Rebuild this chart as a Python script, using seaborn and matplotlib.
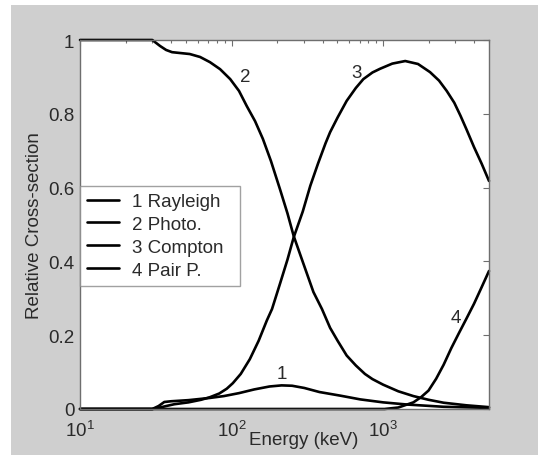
import numpy as np
import pandas as pd
import matplotlib
matplotlib.use("Agg")
import matplotlib.pyplot as plt
import matplotlib.ticker as mticker
from matplotlib.patches import Rectangle
import seaborn as sns

# ---- data (energy in keV, relative cross-section) ----
rayleigh_E = [10, 30, 33, 36, 40, 52, 72, 89, 112, 141, 178, 214, 251, 302, 380, 525, 708, 1000, 1450, 2510, 5000]
rayleigh_v = [0, 0, 0.008, 0.019, 0.021, 0.024, 0.030, 0.035, 0.043, 0.053, 0.061, 0.064, 0.063, 0.057, 0.046, 0.036, 0.026, 0.018, 0.012, 0.006, 0.003]

photo_E = [10, 20, 30, 33.7, 37, 40.5, 53, 62, 72, 84, 98, 112, 126, 143, 161, 182, 209, 234, 257, 295, 347, 395, 447, 501, 575, 661, 759, 851, 1000, 1260, 1585, 1995, 2510, 3550, 5000]
photo_v = [1.0, 1.0, 1.0, 0.984, 0.973, 0.967, 0.962, 0.954, 0.940, 0.921, 0.894, 0.862, 0.821, 0.780, 0.732, 0.672, 0.595, 0.530, 0.469, 0.399, 0.317, 0.271, 0.220, 0.185, 0.145, 0.118, 0.095, 0.081, 0.066, 0.048, 0.035, 0.025, 0.017, 0.010, 0.005]

compton_E = [10, 30, 33, 37, 42, 52, 63, 72, 83, 93, 102, 115, 132, 151, 171, 185, 209, 234, 257, 295, 331, 372, 417, 447, 501, 575, 661, 741, 851, 955, 1150, 1400, 1700, 2040, 2340, 2630, 2950, 3240, 3550, 3980, 4470, 5000]
compton_v = [0, 0, 0.003, 0.008, 0.013, 0.018, 0.025, 0.032, 0.042, 0.055, 0.070, 0.095, 0.135, 0.185, 0.240, 0.271, 0.340, 0.405, 0.465, 0.535, 0.605, 0.665, 0.720, 0.750, 0.790, 0.835, 0.870, 0.894, 0.912, 0.922, 0.936, 0.943, 0.935, 0.913, 0.890, 0.862, 0.830, 0.795, 0.758, 0.710, 0.665, 0.618]

pair_E = [10, 1000, 1022, 1260, 1585, 1780, 1995, 2240, 2510, 2820, 3160, 3550, 3980, 4470, 5000]
pair_v = [0, 0, 0, 0.004, 0.018, 0.032, 0.05, 0.082, 0.12, 0.165, 0.205, 0.245, 0.285, 0.33, 0.374]

series_names = ["1 Rayleigh", "2 Photo.", "3 Compton", "4 Pair P."]
curve_tags = ["1", "2", "3", "4"]
tag_E = [215, 123, 673, 3035]
tag_v = [0.095, 0.90, 0.913, 0.249]

y_ticks = [0, 0.2, 0.4, 0.6, 0.8, 1]
y_ticklabels = ["0", "0.2", "0.4", "0.6", "0.8", "1"]
x_ticks = [10, 100, 1000]

frames = []
for name, E, v in zip(series_names, [rayleigh_E, photo_E, compton_E, pair_E],
                      [rayleigh_v, photo_v, compton_v, pair_v]):
    frames.append(pd.DataFrame({"Energy": E, "Value": v, "Series": name}))
df = pd.concat(frames, ignore_index=True)

sns.set_style("white")
plt.rcParams["font.family"] = ["Liberation Sans", "DejaVu Sans"]
plt.rcParams["mathtext.fontset"] = "custom"
plt.rcParams["mathtext.rm"] = "Liberation Sans"
plt.rcParams["mathtext.it"] = "Liberation Sans"
plt.rcParams["mathtext.default"] = "regular"

W, H = 538, 456
fig = plt.figure(figsize=(W / 100, H / 100), dpi=100, facecolor="white")
fig.patches.append(Rectangle((11 / W, 0), 1 - 11 / W, 1 - 6 / H, transform=fig.transFigure,
                             facecolor="#cfcfcf", edgecolor="none", zorder=-10))
ax = fig.add_axes([80 / W, 1 - 410 / H, (489 - 80) / W, (410 - 41) / H])
ax.set_facecolor("white")

sns.lineplot(data=df, x="Energy", y="Value", hue="Series", hue_order=series_names,
             palette=["black"] * 4, estimator=None, sort=True, linewidth=1.9,
             ax=ax, legend=True, clip_on=False)

ax.set_xscale("log")
ax.set_xlim(10, 5000)
ax.set_ylim(0, 1)
ax.set_yticks(y_ticks)
ax.set_yticklabels(y_ticklabels)
ax.xaxis.set_major_locator(mticker.FixedLocator(x_ticks))
ax.xaxis.set_major_formatter(mticker.LogFormatterSciNotation())
ax.xaxis.set_minor_locator(mticker.LogLocator(base=10, subs=np.arange(2, 10), numticks=20))
ax.xaxis.set_minor_formatter(mticker.NullFormatter())

fs = 13.5
txt_c = "#2a2a2a"
spine_c = "#6e6e6e"
for s in ax.spines.values():
    s.set_color(spine_c)
    s.set_linewidth(1.0)
ax.tick_params(which="both", direction="in", top=True, right=True, colors=spine_c,
               labelcolor=txt_c, labelsize=fs)
ax.tick_params(which="major", length=4, width=0.8)
ax.tick_params(axis="y", which="major", pad=4)
ax.tick_params(axis="x", which="major", pad=8)
ax.tick_params(which="minor", length=2.5, width=0.8)

ax.set_xlabel("Energy (keV)", fontsize=fs, color=txt_c)
ax.xaxis.label.set_va("center")
ax.xaxis.set_label_coords(0.548, -0.082)
ax.set_ylabel("Relative Cross-section", fontsize=fs, color=txt_c)
ax.yaxis.label.set_va("center")
ax.yaxis.set_label_coords(-0.112, 0.5)

for t, e, v in zip(curve_tags, tag_E, tag_v):
    ax.text(e, v, t, fontsize=fs, color=txt_c, ha="center", va="center")

leg_top = (410 - 187) / 369
leg_h = (285 - 187) / 369
leg_w = (240 - 80) / 409
leg = ax.legend(loc="upper left", bbox_to_anchor=(0, leg_top - leg_h, leg_w, leg_h),
                mode="expand", borderaxespad=0,
                fontsize=fs, frameon=True, fancybox=False, edgecolor="#8a8a8a",
                handlelength=1.7, handletextpad=0.7, labelspacing=0.3, borderpad=0.38)
leg.get_frame().set_linewidth(1.0)
for line in leg.get_lines():
    line.set_linewidth(1.9)
for txt in leg.get_texts():
    txt.set_color(txt_c)

fig.savefig("out.png", dpi=100, facecolor=fig.get_facecolor())
